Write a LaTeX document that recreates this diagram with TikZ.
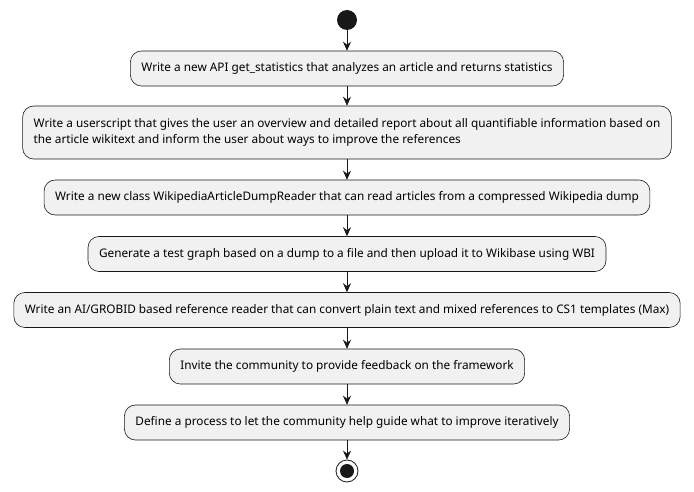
\documentclass[tikz,border=0pt]{standalone}
\usepackage{fontspec}
\setmainfont{Noto Sans}
\usetikzlibrary{arrows.meta}
\definecolor{actfill}{HTML}{F1F1F1}
\definecolor{actline}{HTML}{181818}
\tikzset{
	act/.style={draw=actline, fill=actfill, line width=0.6pt, rounded corners=11pt, inner xsep=11pt, minimum height=35pt, align=left, font=\fontsize{11.8}{16.5}\selectfont},
	flow/.style={draw=actline, line width=0.6pt, -{Stealth[length=9pt,width=8pt,inset=3pt]}}
}
\begin{document}
\begin{tikzpicture}[x=1pt, y=-1pt, line join=round]
		\useasboundingbox (0,0) rectangle (694,492);
		\node (start) at (347,20) [circle, fill=actline, minimum size=20pt, inner sep=0pt]{};
		\node (api) at (347,68.5) [act]{Write a new API get\_statistics that analyzes an article and returns statistics};
		\node (user) at (347,132.5) [act, minimum height=53pt]{Write a userscript that gives the user an overview and detailed report about all quantifiable information based on\\the article wikitext and inform the user about ways to improve the references};
		\node (dump) at (347,197.5) [act]{Write a new class WikipediaArticleDumpReader that can read articles from a compressed Wikipedia dump};
		\node (graph) at (347,254) [act]{Generate a test graph based on a dump to a file and then upload it to Wikibase using WBI};
		\node (grobid) at (347,310) [act]{Write an AI/GROBID based reference reader that can convert plain text and mixed references to CS1 templates (Max)};
		\node (invite) at (347,366.5) [act]{Invite the community to provide feedback on the framework};
		\node (define) at (347,422.5) [act]{Define a process to let the community help guide what to improve iteratively};
		\node (stop) at (347,471) [circle, draw=actline, line width=0.8pt, fill=white, minimum size=22pt, inner sep=0pt]{};
		\fill[actline] (stop) circle (7pt);
		\draw[flow] (start)--(api);
		\draw[flow] (api)--(user);
		\draw[flow] (user)--(dump);
		\draw[flow] (dump)--(graph);
		\draw[flow] (graph)--(grobid);
		\draw[flow] (grobid)--(invite);
		\draw[flow] (invite)--(define);
		\draw[flow] (define)--(stop);
		
		\end{tikzpicture}
\end{document}
